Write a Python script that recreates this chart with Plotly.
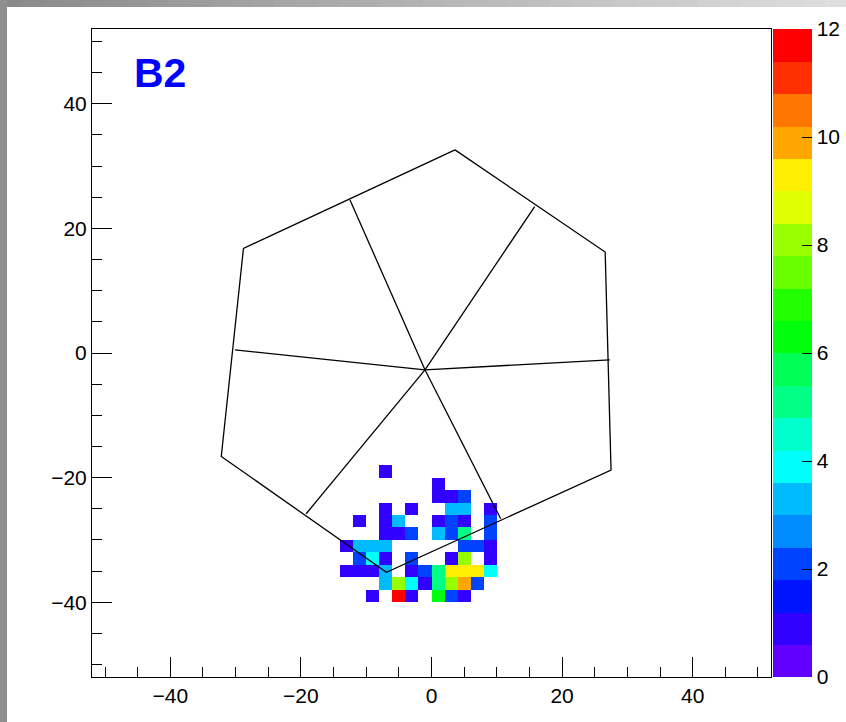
import colorsys
import numpy as np
import plotly.graph_objects as go

# ---------------- data ----------------
cell_x = [-7,
          1,
          1, 3, 5,
          -7, -3, 3, 5, 9,
          -11, -7, -5, 1, 3, 5, 9,
          -7, -5, -3, 1, 3, 5, 9,
          -13, -11, -9, -7, 5, 7, 9,
          -11, -9, -7, -3, 3, 5, 9,
          -13, -11, -9, -7, -3, -1, 1, 3, 5, 7, 9,
          -7, -5, -3, -1, 1, 3, 5, 7,
          -9, -5, -3, 1, 3, 5]
cell_y = [-19,
          -21,
          -23, -23, -23,
          -25, -25, -25, -25, -25,
          -27, -27, -27, -27, -27, -27, -27,
          -29, -29, -29, -29, -29, -29, -29,
          -31, -31, -31, -31, -31, -31, -31,
          -33, -33, -33, -33, -33, -33, -33,
          -35, -35, -35, -35, -35, -35, -35, -35, -35, -35, -35,
          -37, -37, -37, -37, -37, -37, -37, -37,
          -39, -39, -39, -39, -39, -39]
cell_n = [1,
          1,
          1, 1, 2,
          1, 1, 3, 3, 1,
          1, 1, 3, 1, 2, 1, 2,
          1, 1, 2, 3, 2, 5, 2,
          1, 3, 3, 3, 2, 2, 1,
          2, 4, 1, 2, 1, 8, 1,
          1, 1, 1, 3, 1, 2, 5, 9, 9, 9, 4,
          3, 8, 4, 1, 5, 8, 10, 2,
          1, 12, 1, 6, 2, 1]

# detector outline (hexagon) and spokes
hex_x = [3.6, 26.6, 27.5, -6.9, -32.2, -28.8, 3.6]
hex_y = [32.6, 16.2, -18.8, -35.2, -16.6, 16.8, 32.6]
center_x, center_y = -1.0, -2.7
spoke_x = [-12.5, 15.8, 27.3, 10.6, -19.2, -30.1]
spoke_y = [24.6, 23.5, -1.1, -26.6, -25.8, 0.5]

colorbar_ticks = [0, 2, 4, 6, 8, 10, 12]
label_text = "B2"

# ---------------- histogram grid ----------------
bin_w = 2
edges = np.arange(-52, 52 + bin_w, bin_w)
centers = (edges[:-1] + edges[1:]) / 2
z = np.full((len(centers), len(centers)), np.nan)
for cx, cy, n in zip(cell_x, cell_y, cell_n):
    ix = int(np.searchsorted(edges, cx) - 1)
    iy = int(np.searchsorted(edges, cy) - 1)
    z[iy, ix] = n

# ROOT "pretty" palette, 20 contour levels
zmin, zmax, ncont = 0, 12, 20
def band_color(k):
    if k >= ncont - 1:
        return "rgb(255,0,0)"
    idx = int((k + 0.99) * 50 / ncont)
    hue = 280 - (idx + 1) * 5.6
    r, g, b = colorsys.hls_to_rgb(hue / 360.0, 0.5, 1.0)
    return f"rgb({int(r*255)},{int(g*255)},{int(b*255)})"

colorscale = []
for k in range(ncont):
    lo = 0.0 if k == 0 else (k - 0.01) / ncont
    hi = 1.0 if k == ncont - 1 else (k + 1 - 0.01) / ncont
    c = band_color(k)
    colorscale.append([lo, c])
    colorscale.append([hi, c])

# ---------------- figure ----------------
W, H = 846, 722
L, R, T, B = 92, 75, 29, 45
pw, ph = W - L - R, H - T - B

font = dict(family="Liberation Sans, Arial, sans-serif", size=21, color="black")

fig = go.Figure()
fig.add_trace(go.Heatmap(
    x=centers, y=centers, z=z, zmin=zmin, zmax=zmax,
    colorscale=colorscale, hoverongaps=False,
    colorbar=dict(
        x=1 + 2 / pw, xanchor="left", xpad=0, y=0.5, yanchor="middle",
        len=1, lenmode="fraction", ypad=0, thickness=39,
        outlinewidth=0, tickvals=colorbar_ticks, ticks="inside",
        ticklen=10, tickwidth=1, tickcolor="black", tickfont=font,
    ),
))

fig.add_trace(go.Scatter(x=hex_x, y=hex_y, mode="lines",
                         line=dict(color="black", width=1.3),
                         showlegend=False, hoverinfo="skip"))
sx, sy = [], []
for ex, ey in zip(spoke_x, spoke_y):
    sx += [center_x, ex, None]
    sy += [center_y, ey, None]
fig.add_trace(go.Scatter(x=sx, y=sy, mode="lines",
                         line=dict(color="black", width=1.3),
                         showlegend=False, hoverinfo="skip"))

axis_common = dict(
    range=[-52, 52], showgrid=False, zeroline=False,
    showline=True, mirror=True, linecolor="black", linewidth=1,
    ticks="inside", ticklen=20, tickwidth=1, tickcolor="black",
    tick0=0, dtick=20, tickfont=font,
    minor=dict(ticks="inside", ticklen=10, tickwidth=1, tickcolor="black",
               dtick=5, showgrid=False),
)
fig.update_xaxes(**axis_common)
fig.update_yaxes(**axis_common)

fig.add_annotation(
    xref="paper", yref="paper", x=(133 - L) / pw, y=(H - B - 73) / ph,
    xanchor="left", yanchor="middle", text=f"<b>{label_text}</b>",
    showarrow=False, borderpad=0,
    font=dict(family="Liberation Sans, Arial, sans-serif", size=41, color="#0000ff"),
)

# grey window frame (top gradient strip, left strip)
shapes = []
nseg = 40
strip = 7
for i in range(nseg):
    x0p = i * W / nseg
    x1p = (i + 1) * W / nseg + 1
    g = int(138 + (222 - 138) * i / (nseg - 1))
    shapes.append(dict(type="rect", xref="paper", yref="paper",
                       x0=(x0p - L) / pw, x1=(x1p - L) / pw,
                       y0=(H - B - strip) / ph, y1=(H - B + 2) / ph,
                       fillcolor=f"rgb({g},{g},{g})", line=dict(width=0),
                       layer="above"))
shapes.append(dict(type="rect", xref="paper", yref="paper",
                   x0=(0 - L) / pw, x1=(strip - L) / pw,
                   y0=(H - B - H - 2) / ph, y1=(H - B + 2) / ph,
                   fillcolor="rgb(143,143,143)", line=dict(width=0),
                   layer="above"))

fig.update_layout(
    width=W, height=H, autosize=False,
    margin=dict(l=L, r=R, t=T, b=B, autoexpand=False),
    paper_bgcolor="white", plot_bgcolor="white",
    showlegend=False, shapes=shapes, font=font,
)

fig.write_html("out.html")
